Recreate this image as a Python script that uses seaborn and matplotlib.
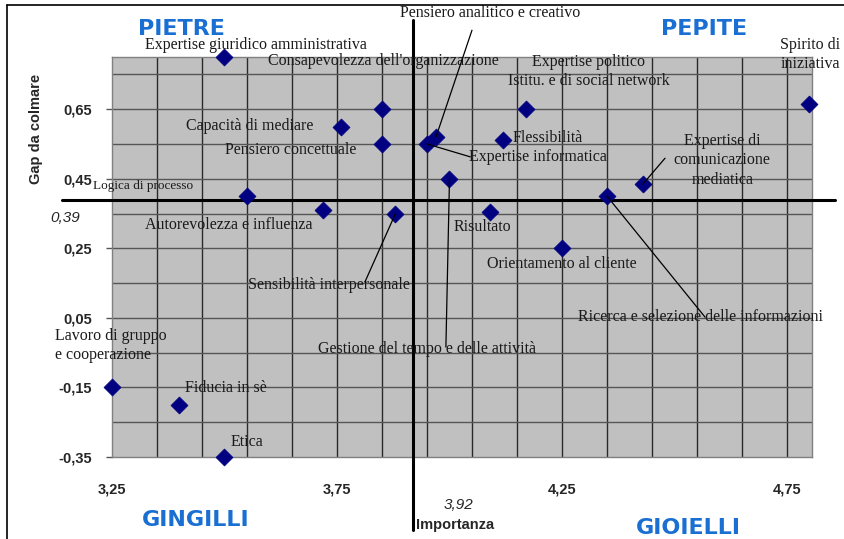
"""
Matrice importanza / gap da colmare delle competenze (quadranti PIETRE, PEPITE, GINGILLI, GIOIELLI).
Scatter seaborn con etichette in serif e linee medie (3,92 ; 0,39).
"""
import numpy as np
import pandas as pd
import matplotlib
matplotlib.use("Agg")
import matplotlib.pyplot as plt
import seaborn as sns
from matplotlib.lines import Line2D

# ===== dati =====
COMPETENZE = [
    "Expertise giuridico amministrativa", "Consapevolezza dell'organizzazione",
    "Capacità di mediare", "Pensiero concettuale", "Logica di processo",
    "Autorevolezza e influenza", "Sensibilità interpersonale",
    "Pensiero analitico e creativo", "Expertise informatica",
    "Expertise politico\nIstitu. e di social network", "Flessibilità",
    "Gestione del tempo e delle attività", "Risultato", "Orientamento al cliente",
    "Ricerca e selezione delle informazioni",
    "Expertise di\ncomunicazione\nmediatica", "Spirito di\niniziativa",
    "Lavoro di gruppo\ne cooperazione", "Fiducia in sè", "Etica",
]
IMPORTANZA = [3.50, 3.85, 3.76, 3.85, 3.55, 3.72, 3.88, 3.97, 3.95, 4.17,
              4.12, 4.00, 4.09, 4.25, 4.35, 4.43, 4.80, 3.25, 3.40, 3.50]
GAP = [0.80, 0.65, 0.60, 0.55, 0.40, 0.36, 0.35, 0.57, 0.55, 0.65,
       0.56, 0.45, 0.355, 0.25, 0.40, 0.435, 0.665, -0.15, -0.20, -0.35]
MEDIA_IMP = 3.92
MEDIA_GAP = 0.39
X_TICKS = [3.25, 3.75, 4.25, 4.75]
Y_TICKS = [-0.35, -0.15, 0.05, 0.25, 0.45, 0.65]

# ===== layout etichette (coordinate dati): centro testo, fine linea guida =====
LABEL_POS = {
    "Expertise giuridico amministrativa": (3.57, 0.834),
    "Consapevolezza dell'organizzazione": (3.852, 0.788),
    "Capacità di mediare": (3.557, 0.601),
    "Pensiero concettuale": (3.648, 0.532),
    "Autorevolezza e influenza": (3.51, 0.317),
    "Sensibilità interpersonale": (3.732, 0.144),
    "Pensiero analitico e creativo": (4.09, 0.926),
    "Expertise informatica": (4.197, 0.512),
    "Expertise politico\nIstitu. e di social network": (4.31, 0.759),
    "Flessibilità": (4.219, 0.567),
    "Gestione del tempo e delle attività": (3.95, -0.04),
    "Risultato": (4.074, 0.311),
    "Orientamento al cliente": (4.25, 0.205),
    "Ricerca e selezione delle informazioni": (4.557, 0.052),
    "Expertise di\ncomunicazione\nmediatica": (4.606, 0.503),
    "Spirito di\niniziativa": (4.801, 0.807),
    "Fiducia in sè": (3.503, -0.152),
    "Etica": (3.55, -0.307),
}
LEADERS = {
    "Pensiero analitico e creativo": (4.05, 0.877),
    "Expertise informatica": (4.046, 0.513),
    "Gestione del tempo e delle attività": (3.992, -0.034),
    "Sensibilità interpersonale": (3.812, 0.153),
    "Ricerca e selezione delle informazioni": (4.568, 0.052),
    "Expertise di\ncomunicazione\nmediatica": (4.479, 0.509),
}

SERIF = "Liberation Serif"
SANS = "Liberation Sans"
BLU = "#1a6fd2"
NAVY = "#000080"
FS_LAB = 11.5

df = pd.DataFrame({"competenza": COMPETENZE, "importanza": IMPORTANZA, "gap": GAP})

sns.set_style("white")
plt.rcParams["font.family"] = [SANS, "DejaVu Sans"]

fig = plt.figure(figsize=(8.44, 5.39), dpi=100)
ax = fig.add_axes([112 / 844, 1 - 457 / 539, 700 / 844, 400 / 539])
ax.set_facecolor("#c0c0c0")

# griglia ogni 0,1
for xv in np.arange(3.35, 4.80, 0.1):
    ax.axvline(xv, color="#2a2a2a", lw=1.0, zorder=1)
for yv in np.arange(-0.25, 0.80, 0.1):
    ax.axhline(yv, color="#555555", lw=1.0, zorder=1)

sns.scatterplot(data=df, x="importanza", y="gap", marker="D", s=75, color=NAVY,
                edgecolor=NAVY, linewidth=0.5, ax=ax, zorder=5, clip_on=False)

ax.set_xlim(3.25, 4.8056)
ax.set_ylim(-0.35, 0.80)
ax.set_xticks(X_TICKS)
ax.set_xticklabels([f"{v:.2f}".replace(".", ",") for v in X_TICKS])
ax.set_yticks(Y_TICKS)
ax.set_yticklabels([f"{v:.2f}".replace(".", ",") for v in Y_TICKS])
ax.tick_params(axis="x", length=0, pad=18, labelsize=10.5)
ax.tick_params(axis="y", left=True, length=4.5, width=1, color="#555555", pad=10, labelsize=10.5)
for lab in ax.get_xticklabels() + ax.get_yticklabels():
    lab.set_fontweight("bold")
ax.set_xlabel("")
ax.set_ylabel("")
for sp in ax.spines.values():
    sp.set_color("#808080")
    sp.set_linewidth(1.0)

# linee medie
ax.axhline(MEDIA_GAP, xmin=-0.0714, xmax=1.033, color="black", lw=2.2, clip_on=False, zorder=4)
ax.axvline(MEDIA_IMP, ymin=-0.1825, ymax=1.0925, color="black", lw=2.2, clip_on=False, zorder=4)

# etichette dei punti
for nome, (tx, ty) in LABEL_POS.items():
    ax.text(tx, ty, nome, ha="center", va="center", fontsize=FS_LAB, family=SERIF,
            color="#1a1a1a", linespacing=1.28, zorder=6, clip_on=False)
ax.text(3.319, 0.429, "Logica di processo", ha="center", va="center", fontsize=9.5,
        family=SERIF, color="#1a1a1a", zorder=6)
ax.text(3.123, -0.029, "Lavoro di gruppo\ne cooperazione", ha="left", va="center",
        fontsize=FS_LAB, family=SERIF, color="#1a1a1a", linespacing=1.22, zorder=6, clip_on=False)

# linee guida
for nome, (ex, ey) in LEADERS.items():
    i = COMPETENZE.index(nome)
    ax.plot([IMPORTANZA[i], ex], [GAP[i], ey], color="black", lw=0.9, zorder=6, clip_on=False)

# quadranti
for txt, fx, fy in [("PIETRE", 181, 29), ("PEPITE", 704, 29),
                    ("GINGILLI", 196, 520), ("GIOIELLI", 688, 528)]:
    fig.text(fx / 844, 1 - fy / 539, txt, ha="center", va="center", fontsize=16,
             fontweight="bold", color=BLU, family="DejaVu Sans")

# titoli assi e valori medi
fig.text(36 / 844, 1 - 129 / 539, "Gap da colmare", rotation=90, ha="center", va="center",
         fontsize=10.5, fontweight="bold")
fig.text(455 / 844, 1 - 525 / 539, "Importanza", ha="center", va="center",
         fontsize=10.5, fontweight="bold")
fig.text(459 / 844, 1 - 505 / 539, "3,92", ha="center", va="center", fontsize=11, style="italic")
fig.text(65 / 844, 1 - 218 / 539, "0,39", ha="center", va="center", fontsize=11, style="italic")

# bordo dell'area grafico
fig.add_artist(Line2D([7 / 844, 7 / 844], [0, 1 - 5 / 539], color="black", lw=1.2,
                      transform=fig.transFigure))
fig.add_artist(Line2D([7 / 844, 1], [1 - 5 / 539, 1 - 5 / 539], color="black", lw=1.2,
                      transform=fig.transFigure))

fig.savefig("out.png", dpi=100, facecolor="white")
plt.close(fig)
